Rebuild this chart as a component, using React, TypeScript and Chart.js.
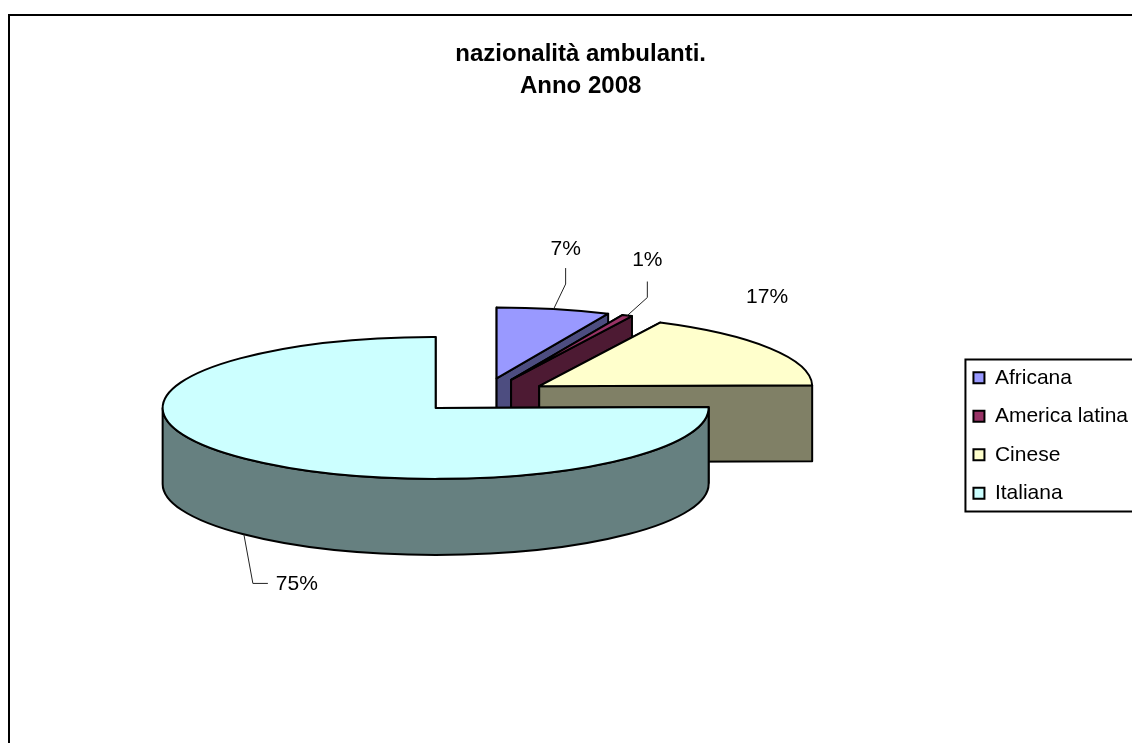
import React, { useEffect, useRef } from "react";
import { Chart, registerables } from "chart.js";

Chart.register(...registerables);

const categories = ["Africana", "America latina", "Cinese", "Italiana"];
const shares = [6.7, 0.6, 17.49, 75.21];
const titleLines = ["nazionalità ambulanti.", "Anno 2008"];
const topColours = ["#9999FF", "#993366", "#FFFFCC", "#CCFFFF"];
const wallColours = ["#4D4D80", "#4D1A33", "#808066", "#668080"];

// Projection of the flat pie into the tilted view
const PIE_RX = 273;
const PIE_RY = 71;
const DEPTH = 76;
const SHIFT_X = -7;
const LIFT = 95;
const EXPLODE = 0.245; // slice displacement as a fraction of the radius
const FONT = "'Liberation Sans', Arial, sans-serif";

// Label placement relative to each slice's mid-rim point
const labelOffsets = [[12, -60], [20, -55], [-3, -51], [53, 50]];
const leaderPaths = [
  [[0, 0], [12, -25], [12, -41]],
  [[0, 0], [20, -18], [20, -34]],
  [],
  [[0, 0], [9, 49], [24, 49]],
];

function centre(chart: any) {
  const a = chart.chartArea;
  return { cx: (a.left + a.right) / 2, cy: (a.top + a.bottom) / 2 };
}

function geom(chart: any, arc: any) {
  const { cx, cy } = centre(chart);
  const p = arc.getProps(["x", "y", "startAngle", "endAngle", "outerRadius"], true);
  const sx = PIE_RX / p.outerRadius;
  const sy = PIE_RY / p.outerRadius;
  const mid = (p.startAngle + p.endAngle) / 2;
  const vx = cx + SHIFT_X + (p.x - cx) * sx;
  const vy = cy - LIFT + (p.y - cy) * sy;
  const at = (a: number) => [vx + PIE_RX * Math.cos(a), vy + PIE_RY * Math.sin(a)];
  return { ...p, sx, sy, mid, vx, vy, at };
}

const pie3d = {
  id: "pie3d",
  // Explode every slice by the same distance along its mid-angle
  afterDatasetsUpdate(chart: any) {
    const { cx, cy } = centre(chart);
    chart.getDatasetMeta(0).data.forEach((arc: any) => {
      const mid = (arc.startAngle + arc.endAngle) / 2;
      arc.x = cx + Math.cos(mid) * EXPLODE * arc.outerRadius;
      arc.y = cy + Math.sin(mid) * EXPLODE * arc.outerRadius;
    });
  },
  beforeDatasetsDraw(chart: any) {
    const ctx = chart.ctx;
    const arcs = chart.getDatasetMeta(0).data;
    ctx.save();
    ctx.lineJoin = "round";
    ctx.strokeStyle = "#000";
    ctx.lineWidth = 2;
    arcs.forEach((arc: any, i: number) => {
      const g = geom(chart, arc);
      ctx.fillStyle = wallColours[i];
      [g.startAngle, g.endAngle].forEach((a: number) => {
        const [px, py] = g.at(a);
        ctx.beginPath();
        ctx.moveTo(g.vx, g.vy);
        ctx.lineTo(px, py);
        ctx.lineTo(px, py + DEPTH);
        ctx.lineTo(g.vx, g.vy + DEPTH);
        ctx.closePath();
        ctx.fill();
        ctx.stroke();
      });
      const a0 = Math.max(g.startAngle, 0);
      const b0 = Math.min(g.endAngle, Math.PI);
      if (a0 < b0) {
        ctx.beginPath();
        ctx.ellipse(g.vx, g.vy, PIE_RX, PIE_RY, 0, a0, b0);
        ctx.ellipse(g.vx, g.vy + DEPTH, PIE_RX, PIE_RY, 0, b0, a0, true);
        ctx.closePath();
        ctx.fill();
        ctx.stroke();
      }
    });
    ctx.restore();
    // Native arcs are drawn squashed into the tilted plane
    const g0 = geom(chart, arcs[0]);
    const { cx, cy } = centre(chart);
    ctx.save();
    ctx.translate(cx + SHIFT_X, cy - LIFT);
    ctx.scale(g0.sx, g0.sy);
    ctx.translate(-cx, -cy);
  },
  afterDatasetsDraw(chart: any) {
    const ctx = chart.ctx;
    ctx.restore();
    const arcs = chart.getDatasetMeta(0).data;
    ctx.save();
    ctx.lineJoin = "round";
    ctx.strokeStyle = "#000";
    ctx.lineWidth = 2;
    arcs.forEach((arc: any) => {
      const g = geom(chart, arc);
      ctx.beginPath();
      ctx.moveTo(g.vx, g.vy);
      ctx.ellipse(g.vx, g.vy, PIE_RX, PIE_RY, 0, g.startAngle, g.endAngle);
      ctx.closePath();
      ctx.stroke();
    });
    ctx.fillStyle = "#000";
    ctx.font = `21px ${FONT}`;
    ctx.textAlign = "center";
    ctx.textBaseline = "middle";
    arcs.forEach((arc: any, i: number) => {
      const g = geom(chart, arc);
      const [px, py0] = g.at(g.mid);
      const py = py0 + (Math.sin(g.mid) > 0 ? DEPTH : 0);
      const leader = leaderPaths[i];
      if (leader.length) {
        ctx.beginPath();
        leader.forEach(([dx, dy]: number[], k: number) => {
          if (k === 0) ctx.moveTo(px + dx, py + dy);
          else ctx.lineTo(px + dx, py + dy);
        });
        ctx.lineWidth = 1;
        ctx.strokeStyle = "#222";
        ctx.stroke();
      }
      ctx.fillText(`${Math.round(shares[i])}%`, px + labelOffsets[i][0], py + labelOffsets[i][1]);
    });
    ctx.restore();
  },
  afterDraw(chart: any) {
    const ctx = chart.ctx;
    const lg = chart.legend;
    ctx.save();
    ctx.strokeStyle = "#000";
    ctx.lineWidth = 2;
    ctx.strokeRect(9, 15, chart.width - 18, chart.height);
    ctx.strokeRect(lg.left + 9.5, chart.height / 2 - 76, lg.width + 40, 152);
    ctx.restore();
  },
};

export default function App() {
  const ref = useRef<HTMLCanvasElement>(null);
  useEffect(() => {
    const chart = new Chart(ref.current as HTMLCanvasElement, {
      type: "pie",
      data: {
        labels: categories,
        datasets: [
          {
            data: shares,
            backgroundColor: topColours,
            borderWidth: 0,
            clip: false,
          } as any,
        ],
      },
      plugins: [pie3d],
      options: {
        responsive: false,
        animation: false,
        events: [],
        layout: { padding: { left: 23.3, right: 29, top: 0, bottom: 0 } },
        plugins: {
          tooltip: { enabled: false },
          title: {
            display: true,
            text: titleLines,
            color: "#000",
            padding: { top: 38, bottom: 8 },
            font: { family: FONT, size: 24, weight: "bold", lineHeight: 32 / 24 },
          },
          legend: {
            position: "right",
            labels: {
              color: "#000",
              boxWidth: 11,
              boxHeight: 11,
              padding: 17.5,
              font: { family: FONT, size: 21 },
              generateLabels() {
                return categories.map((text, i) => ({
                  text,
                  index: i,
                  fillStyle: topColours[i],
                  strokeStyle: "#000",
                  lineWidth: 2,
                  hidden: false,
                }));
              },
            },
          },
        },
      } as any,
    });
    return () => chart.destroy();
  }, []);
  return (
    <div style={{ position: "absolute", left: 0, top: 0, width: 1132, height: 743, overflow: "hidden", background: "#fff" }}>
      <canvas ref={ref} width={1167} height={871} style={{ display: "block", width: 1167, height: 871 }} />
    </div>
  );
}
